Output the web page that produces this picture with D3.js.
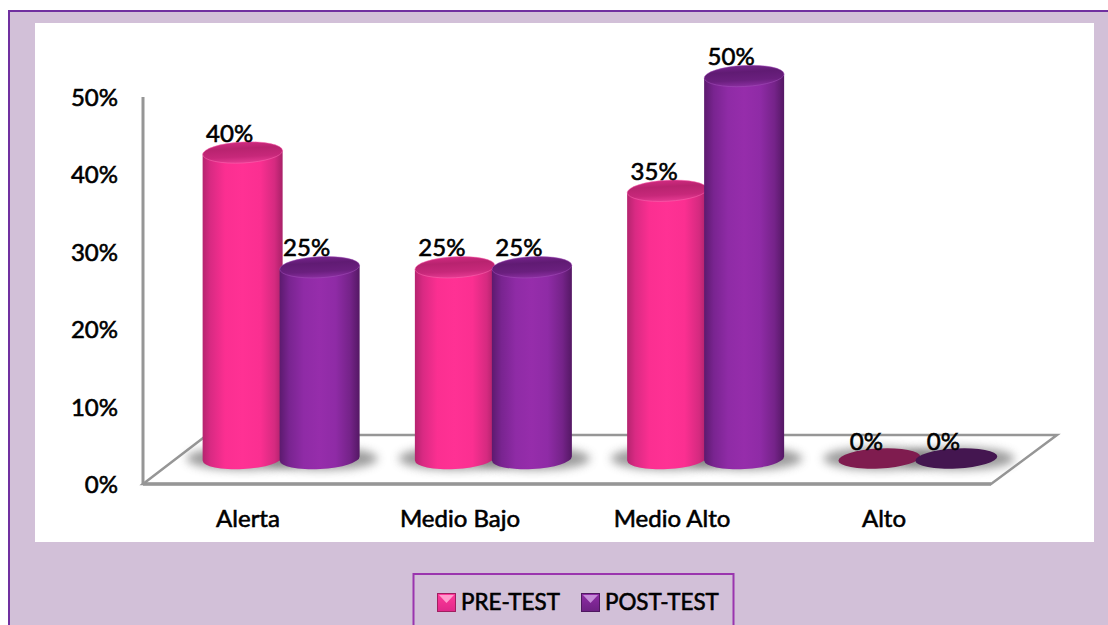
<!DOCTYPE html>
<html><head><meta charset="utf-8">
<script src="https://cdn.jsdelivr.net/npm/d3@7"></script>
<style>html,body{margin:0;padding:0;background:#fff;overflow:hidden}svg{display:block}
text{font-family:Lato,"Open Sans",sans-serif;fill:#000;stroke:#000;stroke-width:.6px}</style></head><body>
<svg id="c" width="1108" height="625"></svg>
<script>
const categories=["Alerta","Medio Bajo","Medio Alto","Alto"];
const preTest=[40,25,35,0];
const postTest=[25,25,50,0];
const seriesNames=["PRE-TEST","POST-TEST"];
const tickValues=[0,10,20,30,40,50];

const svg=d3.select("#c"),defs=svg.append("defs");
function grad(id,stops,horizontal=true){
  const g=defs.append("linearGradient").attr("id",id).attr("x1",0).attr("y1",0).attr("x2",horizontal?1:0).attr("y2",horizontal?0:1);
  stops.forEach(s=>g.append("stop").attr("offset",s[0]).attr("stop-color",s[1]));
}
grad("bodyPink",[[0,"#b5246f"],[.1,"#d92a83"],[.28,"#fb2f91"],[.5,"#ff3194"],[.72,"#fb2f91"],[.9,"#d52a80"],[1,"#a82168"]]);
grad("bodyPurple",[[0,"#5c1a6e"],[.12,"#792490"],[.3,"#8f2ba6"],[.5,"#962dab"],[.7,"#8f2ba6"],[.88,"#752389"],[1,"#541864"]]);
grad("topPink",[[0,"#d02a80"],[.3,"#b8236f"],[.7,"#c7287a"],[1,"#e63a92"]],false);
grad("topPurple",[[0,"#74238a"],[.3,"#601b73"],[.7,"#6a1f7e"],[1,"#8a2ea0"]],false);
grad("legPink",[[0,"#ff3a9a"],[1,"#e0288a"]],false);
grad("legPurple",[[0,"#8f2ba6"],[1,"#6d2183"]],false);
defs.append("filter").attr("id","blur").attr("x","-40%").attr("y","-100%").attr("width","180%").attr("height","300%")
  .append("feGaussianBlur").attr("stdDeviation",5);

// background panels
svg.append("rect").attr("x",9).attr("y",11).attr("width",1120).attr("height",640)
  .attr("fill","#d2c0d8").attr("stroke","#7030a0").attr("stroke-width",2);
svg.append("rect").attr("x",35).attr("y",23).attr("width",1059).attr("height",519).attr("fill","#fff");

// scales
const yAxis=d3.scaleLinear().domain([0,50]).range([484,97]);
const yBar=d3.scaleLinear().domain([0,50]).range([458.5,76]);
const x0=d3.scaleBand().domain(categories).range([175,1024]).padding(0);
const barW=80,off=38.5,ry=10.5,tilt=-3;

// floor
const grey="#969696";
svg.append("path").attr("d","M143,484 L207,435 L1057,435 L991,484 Z").attr("fill","#fff").attr("stroke",grey).attr("stroke-width",2.5);
svg.append("path").attr("d","M143,484 L991,484").attr("stroke",grey).attr("stroke-width",3.5).attr("fill","none");
svg.append("path").attr("d","M143,97 L143,484").attr("stroke",grey).attr("stroke-width",3).attr("fill","none");

// axis labels
const axis=svg.append("g").attr("transform","translate(118,0)")
  .call(d3.axisLeft(yAxis).tickValues(tickValues).tickSize(0).tickPadding(0).tickFormat(d=>d+"%"));
axis.select(".domain").remove();
axis.selectAll("text").attr("font-size",24).attr("dy",".35em");

// bars
const rows=[{name:"pre",vals:preTest,dx:-off,body:"url(#bodyPink)",top:"url(#topPink)",flat:"#7f1c4f",rim:"#ff6db5"},
            {name:"post",vals:postTest,dx:off,body:"url(#bodyPurple)",top:"url(#topPurple)",flat:"#441650",rim:"#a652bd"}];
const data=rows.flatMap(r=>r.vals.map((v,i)=>({v,cx:x0(categories[i])+x0.bandwidth()/2+r.dx,r})));

// shadows
svg.append("g").selectAll("ellipse").data(data).join("ellipse")
  .attr("cx",d=>d.cx+1).attr("cy",d=>yBar(0)).attr("rx",barW/2+17).attr("ry",ry+1)
  .attr("fill","#7a7a7a").attr("opacity",.75).attr("filter","url(#blur)");

const rot=(cx,cy)=>`rotate(${tilt} ${cx} ${cy})`;
const rx=barW/2;
const g=svg.append("g");
data.forEach(d=>{
  const yT=yBar(d.v),yB=yBar(0);
  if(d.v>0){
    const a=Math.sin(tilt*Math.PI/180)*rx;
    g.append("path").attr("d",`M${d.cx-rx},${yT-a} L${d.cx-rx},${yB-a} A${rx},${ry} ${tilt} 0 0 ${d.cx+rx},${yB+a} L${d.cx+rx},${yT+a} Z`)
      .attr("fill",d.r.body);
    g.append("ellipse").attr("cx",d.cx).attr("cy",yT).attr("rx",rx).attr("ry",ry).attr("transform",rot(d.cx,yT)).attr("fill",d.r.top).attr("stroke",d.r.rim).attr("stroke-width",.8).attr("stroke-opacity",.6);
  } else {
    g.append("ellipse").attr("cx",d.cx).attr("cy",yT).attr("rx",rx+1).attr("ry",ry-.5).attr("transform",rot(d.cx,yT)).attr("fill",d.r.flat);
  }
});

// value labels
svg.append("g").selectAll("text").data(data).join("text")
  .attr("x",d=>d.cx-13).attr("y",d=>yBar(d.v)-(d.v>0?11:9)).attr("text-anchor","middle").attr("font-size",24)
  .text(d=>d.v+"%");

// category labels
svg.append("g").selectAll("text").data(categories).join("text")
  .attr("x",(d,i)=>[248,460,672,884][i]).attr("y",527).attr("text-anchor","middle").attr("font-size",24).text(d=>d);

// legend
svg.append("rect").attr("x",413.5).attr("y",574).attr("width",320).attr("height",70).attr("fill","#d2c0d8").attr("stroke","#9a35ae").attr("stroke-width",2);
const leg=[{x:437,name:seriesNames[0],f:"url(#legPink)",s:"#a01f60",hi:"#ff9ccd",tx:461},{x:581,name:seriesNames[1],f:"url(#legPurple)",s:"#4f1860",hi:"#c58bd8",tx:605}];
leg.forEach(l=>{
  svg.append("rect").attr("x",l.x+.5).attr("y",593.5).attr("width",18).attr("height",18).attr("fill",l.f).attr("stroke",l.s);
  svg.append("path").attr("d",`M${l.x+2},${595} L${l.x+17},${595} L${l.x+9.5},${603} Z`).attr("fill",l.hi);
  svg.append("text").attr("x",l.tx).attr("y",609.5).attr("font-size",22.4).text(l.name);
});
</script></body></html>
